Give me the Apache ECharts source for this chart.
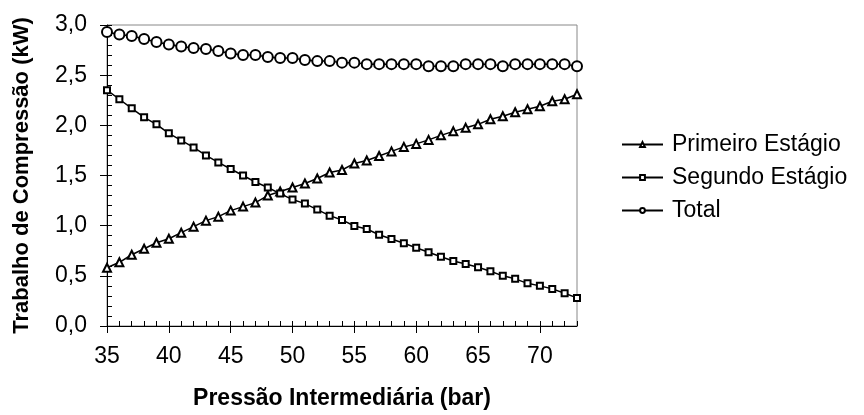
<!DOCTYPE html>
<html>
<head>
<meta charset="utf-8">
<script src="https://cdn.jsdelivr.net/npm/echarts@6/dist/echarts.min.js"></script>
<style>
  html, body { margin: 0; padding: 0; background: #fff; }
  #chart { width: 864px; height: 415px; }
</style>
</head>
<body>
<div id="chart"></div>
<script>
const pressao = [35, 36, 37, 38, 39, 40, 41, 42, 43, 44, 45, 46, 47, 48, 49, 50, 51, 52, 53, 54,
  55, 56, 57, 58, 59, 60, 61, 62, 63, 64, 65, 66, 67, 68, 69, 70, 71, 72, 73]
const primeiro = [0.58, 0.635, 0.71, 0.77, 0.83, 0.87, 0.93, 0.99, 1.05, 1.09, 1.15, 1.19, 1.23, 1.30, 1.34, 1.38, 1.42, 1.47, 1.53, 1.555,
  1.62, 1.65, 1.695, 1.74, 1.785, 1.815, 1.855, 1.90, 1.94, 1.975, 2.01, 2.06, 2.09, 2.13, 2.16, 2.19, 2.24, 2.26, 2.31]
const segundo = [2.35, 2.26, 2.17, 2.08, 2.01, 1.92, 1.85, 1.78, 1.70, 1.63, 1.565, 1.50, 1.435, 1.38, 1.32, 1.26, 1.22, 1.16, 1.10, 1.057,
  0.997, 0.967, 0.91, 0.867, 0.824, 0.78, 0.735, 0.69, 0.648, 0.618, 0.585, 0.545, 0.50, 0.47, 0.425, 0.40, 0.37, 0.326, 0.28]
const total = [2.93, 2.905, 2.89, 2.86, 2.83, 2.805, 2.785, 2.77, 2.76, 2.74, 2.715, 2.70, 2.70, 2.68, 2.67, 2.67, 2.65, 2.64, 2.64, 2.625,
  2.625, 2.61, 2.61, 2.61, 2.61, 2.61, 2.59, 2.59, 2.59, 2.61, 2.61, 2.61, 2.59, 2.61, 2.61, 2.61, 2.61, 2.61, 2.59]
const xTicks = [35, 40, 45, 50, 55, 60, 65, 70]

const font = 'Liberation Sans, Arial, sans-serif'
const pairs = vals => pressao.map((x, i) => [x, vals[i]])

const myChart = echarts.init(document.getElementById('chart'))
let option = {
  animation: false,
  textStyle: { fontFamily: font, color: '#000' },
  grid: {
    left: 107,
    right: 287,
    top: 25,
    bottom: 89,
    show: true,
    borderColor: '#888',
    borderWidth: 1
  },
  legend: {
    orient: 'vertical',
    left: 616,
    top: 128,
    itemWidth: 41,
    itemHeight: 6,
    itemGap: 10,
    textStyle: { fontFamily: font, fontSize: 23, lineHeight: 20, color: '#000', padding: [0, 0, 0, 4] },
    data: ['Primeiro Estágio', 'Segundo Estágio', 'Total']
  },
  xAxis: [
    {
      type: 'value',
      min: 35,
      max: 73,
      interval: 5,
      position: 'bottom',
      name: 'Pressão Intermediária (bar)',
      nameLocation: 'middle',
      nameGap: 61,
      nameTextStyle: { fontFamily: font, fontSize: 23, fontWeight: 'bold', color: '#000' },
      splitLine: { show: false },
      axisLine: { lineStyle: { color: '#000', width: 1 } },
      axisTick: { inside: false, length: 7, lineStyle: { color: '#000' }, customValues: xTicks },
      axisLabel: { fontSize: 23, color: '#000', margin: 19, customValues: xTicks }
    },
    {
      // ticks menores (para dentro)
      type: 'value',
      min: 35,
      max: 73,
      interval: 1,
      position: 'bottom',
      splitLine: { show: false },
      axisLine: { show: false },
      axisTick: { inside: true, length: 5, lineStyle: { color: '#000' } },
      axisLabel: { show: false }
    }
  ],
  yAxis: [
    {
      type: 'value',
      min: 0,
      max: 3,
      interval: 0.5,
      position: 'left',
      name: 'Trabalho de Compressão (kW)',
      nameLocation: 'middle',
      nameGap: 74,
      nameRotate: 90,
      nameTextStyle: { fontFamily: font, fontSize: 22, fontWeight: 'bold', color: '#000' },
      splitLine: { show: false },
      axisLine: { show: true, lineStyle: { color: '#000', width: 1 } },
      axisTick: { show: true, inside: false, length: 7, lineStyle: { color: '#000' } },
      axisLabel: {
        fontSize: 23,
        color: '#000',
        margin: 20,
        formatter: v => v.toFixed(1).replace('.', ',')
      }
    },
    {
      type: 'value',
      min: 0,
      max: 3,
      interval: 0.1,
      position: 'left',
      splitLine: { show: false },
      axisLine: { show: false },
      axisTick: { show: true, inside: true, length: 5, lineStyle: { color: '#000' } },
      axisLabel: { show: false }
    }
  ],
  series: [
    {
      name: 'Primeiro Estágio',
      type: 'line',
      xAxisIndex: 0,
      yAxisIndex: 0,
      data: pairs(primeiro),
      symbol: 'emptyTriangle',
      symbolSize: 8,
      color: '#000',
      lineStyle: { color: '#000', width: 1.5 },
      itemStyle: { color: '#000', borderWidth: 1.2 }
    },
    {
      name: 'Segundo Estágio',
      type: 'line',
      xAxisIndex: 0,
      yAxisIndex: 0,
      data: pairs(segundo),
      symbol: 'emptyRect',
      symbolSize: 6,
      color: '#000',
      lineStyle: { color: '#000', width: 1.5 },
      itemStyle: { color: '#000', borderWidth: 1.5 }
    },
    {
      name: 'Total',
      type: 'line',
      xAxisIndex: 0,
      yAxisIndex: 0,
      data: pairs(total),
      symbol: 'emptyCircle',
      symbolSize: 10,
      color: '#000',
      lineStyle: { color: '#000', width: 1.5 },
      itemStyle: { color: '#000', borderWidth: 1.2 }
    }
  ]
}
myChart.setOption(option)
</script>
</body>
</html>
